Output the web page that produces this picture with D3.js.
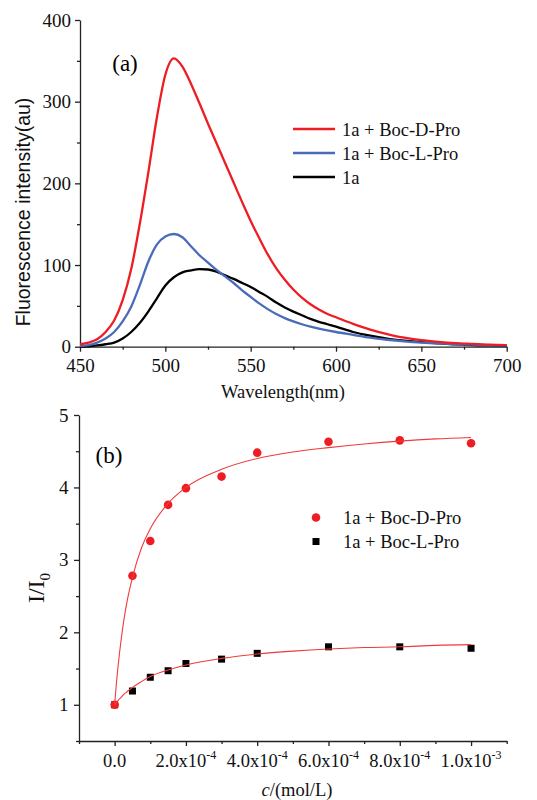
<!DOCTYPE html>
<html><head><meta charset="utf-8">
<script src="https://cdn.jsdelivr.net/npm/d3@7"></script>
<style>body{margin:0;background:#fff}svg{display:block}</style>
</head><body><svg id="c" width="537" height="800"></svg>
<script>
// ---------- Panel (a) data ----------
const wavelengths = [450,455,460,465,470,475,480,485,490,495,500,505,510,515,520,525,530,535,540,545,550,555,560,565,570,575,580,585,590,595,600,610,620,630,640,650,660,670,680,690,700];
const spectrumD = [3,5,9,18,32,57,95,150,213,280,333,353,343,322,298,273,249,225,201,177,154,133,113,96,82,70,60,52,45.5,40,36,28,21,15.5,11,8,6,4.5,3.5,2.5,2];
const spectrumL = [1,2,5,10,18,31,49,75,104,125,135,138,134,123,112,103,94,86,78,69,61,53,46,40,35,31,27.5,24.5,22,20,18,14.5,11,8.5,6.5,5,4,3,2.5,2,1.5];
const spectrum1a = [0,0.5,1.5,3,5,10,18,29,43,59,75,85,91,93.5,95,94.5,92,87.5,83,78,73,67,61,54,48,43,38.5,34,30.5,27.5,24.5,18,13.5,10,7.5,5.5,4,3,2,1.5,1];
const seriesNamesA = ["1a + Boc-D-Pro","1a + Boc-L-Pro","1a"];
const xTicksA = [450,500,550,600,650,700];
const xMinorA = [475,525,575,625,675];
const yTicksA = [0,100,200,300,400];
const yMinorA = [50,150,250,350];

// ---------- Panel (b) data ----------
const conc = [0,0.00005,0.0001,0.00015,0.0002,0.0003,0.0004,0.0006,0.0008,0.001];
const ratioD = [1.00,2.78,3.26,3.76,3.99,4.15,4.48,4.63,4.65,4.61];
const ratioL = [1.00,1.19,1.38,1.47,1.57,1.63,1.71,1.80,1.80,1.78];
const fitConc = [0,0.000005,0.00001,0.0000175,0.000025,0.000035,0.00005,0.000075,0.0001,0.00015,0.0002,0.0003,0.0004,0.0005,0.0006,0.0007,0.0008,0.0009,0.001];
const fitD = [1.00,1.30,1.55,1.87,2.14,2.43,2.76,3.16,3.43,3.78,4.00,4.25,4.40,4.49,4.55,4.60,4.64,4.67,4.69];
const fitL = [1.00,1.03,1.06,1.10,1.14,1.18,1.24,1.32,1.39,1.48,1.55,1.64,1.70,1.74,1.77,1.79,1.80,1.82,1.83];
const seriesNamesB = ["1a + Boc-D-Pro","1a + Boc-L-Pro"];
const xTicksB = [0,0.0002,0.0004,0.0006,0.0008,0.001];
const xTickMantissaB = ["0.0","2.0","4.0","6.0","8.0","1.0"];
const xTickExpB = ["","-4","-4","-4","-4","-3"];
const xMinorB = [-0.0001,0.0001,0.0003,0.0005,0.0007,0.0009,0.0011];
const yTicksB = [1,2,3,4,5];
const yMinorB = [0.5,1.5,2.5,3.5,4.5];

const RED = "#ee1d24", BLUE = "#4a6cb8", BLACK = "#000";
const serif = "'Liberation Serif','Times New Roman',serif";
const sans = "'Liberation Sans',Arial,sans-serif";
const svg = d3.select("#c");
svg.append("rect").attr("width",537).attr("height",800).attr("fill","#fff");

function styleAxis(g, fs){
  g.attr("font-family",serif);
  g.select(".domain").attr("stroke","#222").attr("stroke-width",1.3);
  g.selectAll(".tick line").attr("stroke","#222").attr("stroke-width",1.3);
  g.selectAll("text").attr("font-family",serif).attr("font-size",fs||19).attr("fill","#111");
}

// ================= Panel (a) =================
const xA = d3.scaleLinear().domain([450,700]).range([80,506.7]);
const yA = d3.scaleLinear().domain([0,400]).range([346.7,20]);

const gxAm = svg.append("g").attr("transform",`translate(0,${yA(0)})`)
  .call(d3.axisBottom(xA).tickValues(xMinorA).tickSize(3).tickFormat(""));
gxAm.select(".domain").remove(); styleAxis(gxAm);
const gxA = svg.append("g").attr("transform",`translate(0,${yA(0)})`)
  .call(d3.axisBottom(xA).tickValues(xTicksA).tickSize(5).tickSizeOuter(0).tickPadding(7));
styleAxis(gxA, 19);

const gyAm = svg.append("g").attr("transform",`translate(${xA(450)},0)`)
  .call(d3.axisLeft(yA).tickValues(yMinorA).tickSize(3).tickFormat(""));
gyAm.select(".domain").remove(); styleAxis(gyAm);
const gyA = svg.append("g").attr("transform",`translate(${xA(450)},0)`)
  .call(d3.axisLeft(yA).tickValues(yTicksA).tickSize(5).tickSizeOuter(0).tickPadding(4));
styleAxis(gyA, 19);

const lineA = d3.line().x((d,i)=>xA(wavelengths[i])).y(d=>yA(d)).curve(d3.curveMonotoneX);
[[spectrum1a,BLACK],[spectrumL,BLUE],[spectrumD,RED]].forEach(([s,c])=>{
  svg.append("path").attr("d",lineA(s)).attr("fill","none").attr("stroke",c).attr("stroke-width",2.3);
});

svg.append("text").attr("x",125).attr("y",71).attr("text-anchor","middle")
  .attr("font-family",serif).attr("font-size",23).text("(a)");

const legA = [[RED,seriesNamesA[0]],[BLUE,seriesNamesA[1]],[BLACK,seriesNamesA[2]]];
legA.forEach(([c,t],i)=>{
  const y = 129 + i*24;
  svg.append("line").attr("x1",293).attr("x2",335).attr("y1",y).attr("y2",y).attr("stroke",c).attr("stroke-width",2.3);
  svg.append("text").attr("x",342).attr("y",y+6.5).attr("font-family",serif).attr("font-size",18.5).attr("fill","#111").text(t);
});

svg.append("text").attr("transform","translate(30,212) rotate(-90)").attr("text-anchor","middle")
  .attr("font-family",sans).attr("font-size",19.5).attr("fill","#111").text("Fluorescence intensity(au)");
svg.append("text").attr("x",283).attr("y",398).attr("text-anchor","middle")
  .attr("font-family",serif).attr("font-size",18.5).attr("fill","#111").text("Wavelength(nm)");

// ================= Panel (b) =================
const xB = d3.scaleLinear().domain([-0.0001,0.0011]).range([79,506.7]);
const yB = d3.scaleLinear().domain([0.5,5]).range([741,415]);

const gxBm = svg.append("g").attr("transform",`translate(0,${yB(0.5)})`)
  .call(d3.axisBottom(xB).tickValues(xMinorB).tickSize(3).tickFormat(""));
gxBm.select(".domain").remove(); styleAxis(gxBm);
const gxB = svg.append("g").attr("transform",`translate(0,${yB(0.5)})`)
  .call(d3.axisBottom(xB).tickValues(xTicksB).tickSize(5).tickSizeOuter(0).tickFormat(""));
styleAxis(gxB);
xTicksB.forEach((v,i)=>{
  const t = svg.append("text").attr("x",xB(v)).attr("y",767).attr("text-anchor","middle")
    .attr("font-family",serif).attr("font-size",18.5).attr("fill","#111");
  if(xTickExpB[i]===""){ t.text(xTickMantissaB[i]); }
  else {
    t.append("tspan").text(xTickMantissaB[i]+"x10");
    t.append("tspan").attr("dy",-8).attr("font-size",12).text(xTickExpB[i]);
  }
});

const gyBm = svg.append("g").attr("transform",`translate(${xB(-0.0001)},0)`)
  .call(d3.axisLeft(yB).tickValues(yMinorB).tickSize(3).tickFormat(""));
gyBm.select(".domain").remove(); styleAxis(gyBm);
const gyB = svg.append("g").attr("transform",`translate(${xB(-0.0001)},0)`)
  .call(d3.axisLeft(yB).tickValues(yTicksB).tickSize(5).tickSizeOuter(0).tickPadding(5.5).tickFormat(d3.format("d")));
styleAxis(gyB, 19);

// markers
svg.append("g").selectAll("rect").data(ratioL).join("rect")
  .attr("x",(d,i)=>xB(conc[i])-3.5).attr("y",d=>yB(d)-3.5).attr("width",7).attr("height",7).attr("fill",BLACK);
svg.append("g").selectAll("circle").data(ratioD).join("circle")
  .attr("cx",(d,i)=>xB(conc[i])).attr("cy",d=>yB(d)).attr("r",4.3).attr("fill",RED);

const lineB = d3.line().x((d,i)=>xB(fitConc[i])).y(d=>yB(d)).curve(d3.curveMonotoneX);
[fitD,fitL].forEach(s=>{
  svg.append("path").attr("d",lineB(s)).attr("fill","none").attr("stroke","#f03a3a").attr("stroke-width",1.1);
});

svg.append("text").attr("x",109).attr("y",463).attr("text-anchor","middle")
  .attr("font-family",serif).attr("font-size",23).text("(b)");

svg.append("circle").attr("cx",316).attr("cy",517.5).attr("r",4.3).attr("fill",RED);
svg.append("rect").attr("x",312.5).attr("y",538).attr("width",7).attr("height",7).attr("fill",BLACK);
svg.append("text").attr("x",343).attr("y",524).attr("font-family",serif).attr("font-size",18.5).attr("fill","#111").text(seriesNamesB[0]);
svg.append("text").attr("x",343).attr("y",548).attr("font-family",serif).attr("font-size",18.5).attr("fill","#111").text(seriesNamesB[1]);

const yl = svg.append("text").attr("transform","translate(44,588) rotate(-90)").attr("text-anchor","middle")
  .attr("font-family",serif).attr("font-size",24).attr("fill","#111");
yl.append("tspan").text("I/I");
yl.append("tspan").attr("dy",6).attr("font-size",15).text("0");

const xl = svg.append("text").attr("x",297).attr("y",796).attr("text-anchor","middle")
  .attr("font-family",serif).attr("font-size",18.5).attr("fill","#111");
xl.append("tspan").attr("font-style","italic").text("c");
xl.append("tspan").text("/(mol/L)");
</script>
</body></html>
